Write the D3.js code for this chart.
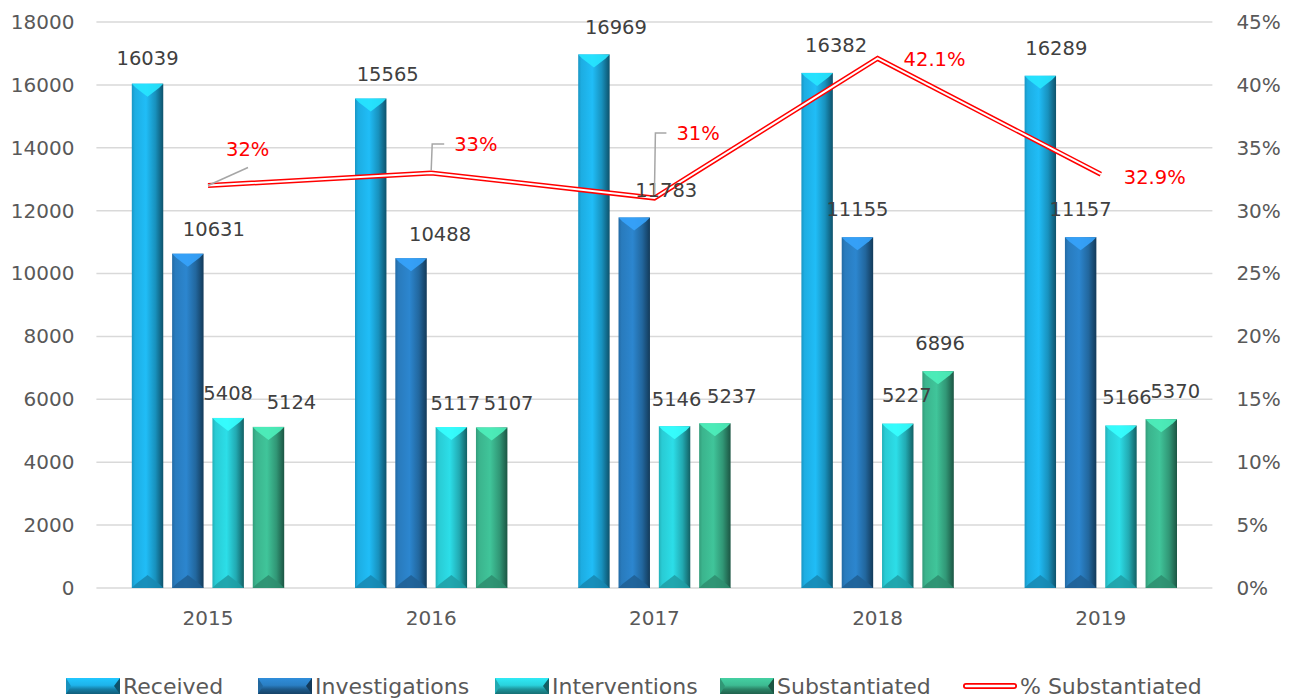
<!DOCTYPE html>
<html>
<head>
<meta charset="utf-8">
<script src="https://cdn.jsdelivr.net/npm/d3@7"></script>
<style>
  html, body { margin: 0; padding: 0; background: #fff; }
  svg text { font-family: "DejaVu Sans", Lato, sans-serif; }
</style>
</head>
<body>
<div id="chart"></div>
<script>
// chart values
var years = ['2015', '2016', '2017', '2018', '2019'];
var received = [16039, 15565, 16969, 16382, 16289];
var investigations = [10631, 10488, 11783, 11155, 11157];
var interventions = [5408, 5117, 5146, 5227, 5166];
var substantiated = [5124, 5107, 5237, 6896, 5370];
var pctSubstantiated = [0.32, 0.33, 0.31, 0.421, 0.329];
var leftTicks = [0, 2000, 4000, 6000, 8000, 10000, 12000, 14000, 16000, 18000];
var rightTicks = [0, 0.05, 0.10, 0.15, 0.20, 0.25, 0.30, 0.35, 0.40, 0.45];

var seriesNames = ['Received', 'Investigations', 'Interventions', 'Substantiated'];
var seriesValues = [received, investigations, interventions, substantiated];
var seriesColors = ['#1eb3ea', '#2a7fc4', '#2ad2dc', '#3dbb92'];

// label nudges (excel had them dragged around a bit)
var labelDx = [[0, 17, 22, 19, 16], [26, 29, 32, 0, 0], [0, 4, 2, 9, 6], [23, 17, 17, 2, 14]];
var labelDy = [-25, -24, -27, -28, -28];
var pctLabelDx = [18, 23, 22, 26, 23];
var pctLabelDy = [-36, -29, -65, 1, 3];
var pctLeader = ['diag', 'elbow', 'elbow', 'none', 'none'];

var W = 1296, H = 700;
var plot = {left: 96.4, right: 1212.4, top: 22, bottom: 588};

var svg = d3.select('#chart').append('svg')
  .attr('width', W).attr('height', H);
var defs = svg.append('defs');

var x0 = d3.scaleBand().domain(years).range([plot.left, plot.right]);
var x1 = d3.scaleBand().domain(seriesNames).range([-76.2, 76.2]).paddingInner(0.22);
var y = d3.scaleLinear().domain([0, 18000]).range([plot.bottom, plot.top]);
var yPct = d3.scaleLinear().domain([0, 0.45]).range([plot.bottom, plot.top]);

// gradients for the bevelled bars
seriesColors.forEach(function(c, i) {
  var base = d3.color(c);
  var g = defs.append('linearGradient').attr('id', 'grad' + i)
    .attr('x1', 0).attr('x2', 1).attr('y1', 0).attr('y2', 0);
  g.append('stop').attr('offset', 0).attr('stop-color', base.darker(0.5));
  g.append('stop').attr('offset', 0.1).attr('stop-color', base.darker(0.1));
  g.append('stop').attr('offset', 0.45).attr('stop-color', base.brighter(0.15));
  g.append('stop').attr('offset', 0.75).attr('stop-color', base.darker(0.6));
  g.append('stop').attr('offset', 1).attr('stop-color', base.darker(2.2));

  var lg = defs.append('linearGradient').attr('id', 'lgrad' + i)
    .attr('x1', 0).attr('x2', 0).attr('y1', 0).attr('y2', 1);
  lg.append('stop').attr('offset', 0).attr('stop-color', base.brighter(0.3));
  lg.append('stop').attr('offset', 0.45).attr('stop-color', base);
  lg.append('stop').attr('offset', 0.7).attr('stop-color', base.darker(1.0));
  lg.append('stop').attr('offset', 1).attr('stop-color', base.darker(1.8));
});

// gridlines
svg.append('g').selectAll('line')
  .data(leftTicks)
  .enter().append('line')
  .attr('x1', plot.left).attr('x2', plot.right)
  .attr('y1', function(d) { return y(d); })
  .attr('y2', function(d) { return y(d); })
  .attr('stroke', '#d9d9d9').attr('stroke-width', 1.5);

// left axis
var leftAxis = svg.append('g')
  .attr('transform', 'translate(' + (plot.left - 22) + ',0)')
  .call(d3.axisLeft(y).tickValues(leftTicks).tickSize(0).tickPadding(0).tickFormat(d3.format('d')));
leftAxis.select('.domain').remove();
leftAxis.selectAll('text').attr('fill', '#595959').style('font-size', '20px');

// right axis
var rightAxis = svg.append('g')
  .attr('transform', 'translate(' + (plot.right + 24) + ',0)')
  .call(d3.axisRight(yPct).tickValues(rightTicks).tickSize(0).tickPadding(0).tickFormat(d3.format('.0%')));
rightAxis.select('.domain').remove();
rightAxis.selectAll('text').attr('fill', '#595959').style('font-size', '20px');

// x axis
var xAxis = svg.append('g')
  .attr('transform', 'translate(0,' + (plot.bottom + 22) + ')')
  .call(d3.axisBottom(x0).tickSize(0).tickPadding(0));
xAxis.select('.domain').remove();
xAxis.selectAll('text').attr('fill', '#595959').style('font-size', '20px').attr('dy', '0.75em');

// bars
var barData = [];
seriesValues.forEach(function(vals, si) {
  vals.forEach(function(v, yi) {
    barData.push({s: si, year: years[yi], yi: yi, value: v});
  });
});
var bw = x1.bandwidth();

var bars = svg.append('g').selectAll('g.bar')
  .data(barData)
  .enter().append('g')
  .attr('class', 'bar')
  .attr('transform', function(d) {
    return 'translate(' + (x0(d.year) + x0.bandwidth() / 2 + x1(seriesNames[d.s])) + ',0)';
  });

bars.append('rect')
  .attr('x', 0).attr('width', bw)
  .attr('y', function(d) { return y(d.value); })
  .attr('height', function(d) { return y(0) - y(d.value); })
  .attr('fill', function(d) { return 'url(#grad' + d.s + ')'; });

// top bevel
bars.append('path')
  .attr('d', function(d) {
    var t = y(d.value);
    return 'M0,' + t + 'L' + bw + ',' + t + 'L' + (bw - 4) + ',' + (t + 4) +
      'L' + (bw / 2) + ',' + (t + 13) + 'L4,' + (t + 4) + 'Z';
  })
  .attr('fill', function(d) { return d3.color(seriesColors[d.s]).brighter(0.7); })
  .attr('opacity', 0.9);

// bottom bevel
bars.append('path')
  .attr('d', function(d) {
    var b = y(0);
    return 'M0,' + b + 'L' + bw + ',' + b + 'L' + (bw - 4) + ',' + (b - 4) +
      'L' + (bw / 2) + ',' + (b - 13) + 'L4,' + (b - 4) + 'Z';
  })
  .attr('fill', function(d) { return d3.color(seriesColors[d.s]).darker(0.8); })
  .attr('opacity', 0.85);

// % substantiated line
var pts = pctSubstantiated.map(function(p, i) {
  return [x0(years[i]) + x0.bandwidth() / 2, yPct(p)];
});
var line = d3.line();
svg.append('path').attr('d', line(pts))
  .attr('fill', 'none').attr('stroke', '#ff0000').attr('stroke-width', 5)
  .attr('stroke-linejoin', 'miter');
svg.append('path').attr('d', line(pts))
  .attr('fill', 'none').attr('stroke', '#ffffff').attr('stroke-width', 2)
  .attr('stroke-linejoin', 'miter');

// bar value labels
svg.append('g').selectAll('text')
  .data(barData)
  .enter().append('text')
  .attr('x', function(d) {
    return x0(d.year) + x0.bandwidth() / 2 + x1(seriesNames[d.s]) + bw / 2 + labelDx[d.s][d.yi];
  })
  .attr('y', function(d) { return y(d.value) + labelDy[d.yi]; })
  .attr('dy', '0.35em')
  .attr('text-anchor', 'middle')
  .attr('fill', '#404040')
  .style('font-size', '19.5px')
  .text(function(d) { return d.value; });

// leader lines for the percentage labels
var leaders = svg.append('g');
pts.forEach(function(p, i) {
  var lx = p[0] + pctLabelDx[i], ly = p[1] + pctLabelDy[i];
  var d = null;
  if (pctLeader[i] === 'diag') {
    d = 'M' + p[0] + ',' + p[1] + 'L' + (p[0] + 40) + ',' + (ly + 18);
  } else if (pctLeader[i] === 'elbow') {
    d = 'M' + p[0] + ',' + (p[1] - 3) + 'L' + (p[0] + 1) + ',' + ly + 'L' + (lx - 10) + ',' + ly;
  }
  if (d) {
    leaders.append('path').attr('d', d)
      .attr('fill', 'none').attr('stroke', '#a6a6a6').attr('stroke-width', 1.5);
  }
});

// percentage labels
svg.append('g').selectAll('text')
  .data(pctSubstantiated)
  .enter().append('text')
  .attr('x', function(d, i) { return pts[i][0] + pctLabelDx[i]; })
  .attr('y', function(d, i) { return pts[i][1] + pctLabelDy[i]; })
  .attr('dy', '0.35em')
  .attr('fill', '#ff0000')
  .style('font-size', '19.5px')
  .text(function(d) {
    var s = (d * 100).toFixed(1);
    return (s.slice(-2) === '.0' ? s.slice(0, -2) : s) + '%';
  });

// legend
var legendItems = seriesNames.concat(['% Substantiated']);
var legendX = [66, 258, 495, 720, 963];
var legend = svg.append('g').attr('transform', 'translate(0,686)');
legendItems.forEach(function(name, i) {
  var g = legend.append('g').attr('transform', 'translate(' + legendX[i] + ',0)');
  if (i < 4) {
    g.append('rect').attr('x', 0).attr('y', -8).attr('width', 54).attr('height', 16)
      .attr('fill', 'url(#lgrad' + i + ')');
    g.append('path').attr('d', 'M54,-8L54,8L48,0Z')
      .attr('fill', d3.color(seriesColors[i]).darker(2.2));
    g.append('path').attr('d', 'M0,-8L0,8L5,0Z')
      .attr('fill', d3.color(seriesColors[i]).darker(0.6));
  } else {
    g.append('line').attr('x1', 3).attr('x2', 51).attr('y1', 0).attr('y2', 0)
      .attr('stroke', '#ff0000').attr('stroke-width', 6).attr('stroke-linecap', 'round');
    g.append('line').attr('x1', 3).attr('x2', 51).attr('y1', 0).attr('y2', 0)
      .attr('stroke', '#ffffff').attr('stroke-width', 2.5).attr('stroke-linecap', 'round');
  }
  g.append('text').attr('x', 57).attr('y', 0).attr('dy', '0.35em')
    .attr('fill', '#595959').style('font-size', '22px')
    .text(name);
});
</script>
</body>
</html>
